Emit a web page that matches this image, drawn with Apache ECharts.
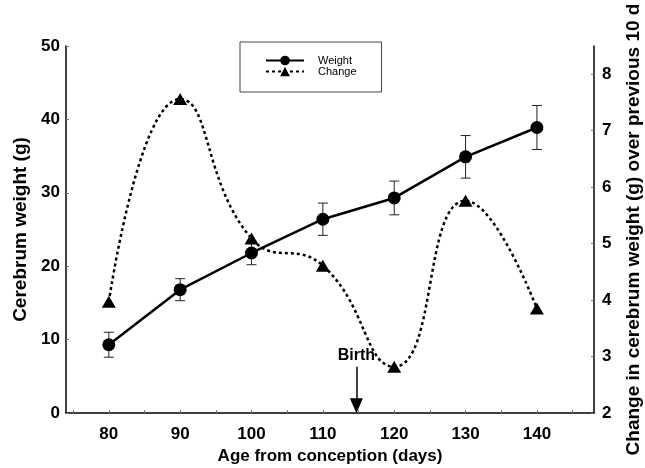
<!DOCTYPE html>
<html>
<head>
<meta charset="utf-8">
<script src="https://cdn.jsdelivr.net/npm/echarts@6/dist/echarts.min.js"></script>
<style>
  html, body { margin: 0; padding: 0; background: #fff; }
  #chart { width: 645px; height: 468px; }
</style>
</head>
<body>
<div id="chart"></div>
<script>
// age from conception (days)
var ages = [80, 90, 100, 110, 120, 130, 140];
// cerebrum weight (g) and its error bar half-width
var weight = [9.3, 16.8, 21.8, 26.4, 29.3, 34.9, 38.9];
var weightErr = [1.7, 1.5, 1.6, 2.2, 2.3, 2.9, 3.0];
// change in cerebrum weight over previous 10 d (g)
var change = [3.97, 7.56, 5.09, 4.61, 2.82, 5.76, 3.85];
// axis ticks / labels
var xLabels = [80, 90, 100, 110, 120, 130, 140];
var xTicks = [75, 80, 85, 90, 95, 100, 105, 110, 115, 120, 125, 130, 135, 140, 145];
var rightLabels = [2, 3, 4, 5, 6, 7, 8];
// birth marker (day, arrow top, arrow tip on left axis scale)
var birthDay = 114.7;
var birthArrow = [6.3, 1.0];

var font = "'Liberation Sans', Arial, sans-serif";
var chart = echarts.init(document.getElementById('chart'));

var labelStyle = { color: '#000', fontWeight: 'bold', fontSize: 17, fontFamily: font };
var nameStyle = { color: '#000', fontWeight: 'bold', fontSize: 17, fontFamily: font };
var vNameStyle = { color: '#000', fontWeight: 'bold', fontSize: 19, fontFamily: font };
var tickStyle = { show: true, inside: true, length: 3, lineStyle: { color: '#777', width: 1 } };

chart.setOption({
  animation: false,
  backgroundColor: '#fff',
  grid: { left: 66, right: 51, top: 46, bottom: 55, outerBoundsMode: 'none', containLabel: false },
  legend: {
    data: ['Weight', 'Change'],
    orient: 'vertical',
    left: 240,
    top: 42,
    padding: [13, 25, 15, 25],
    borderColor: '#444',
    borderWidth: 1,
    itemWidth: 38,
    itemHeight: 12,
    itemGap: 0,
    selectedMode: false,
    textStyle: { color: '#000', fontSize: 11, fontFamily: font, padding: [0, 0, 0, 9] }
  },
  xAxis: {
    type: 'value',
    min: 74,
    max: 148,
    name: 'Age from conception (days)',
    nameLocation: 'middle',
    nameGap: 33,
    nameTextStyle: nameStyle,
    axisLine: { lineStyle: { color: '#000', width: 1.5 } },
    axisTick: Object.assign({ customValues: xTicks }, tickStyle),
    axisLabel: Object.assign({ customValues: xLabels, margin: 13 }, labelStyle),
    splitLine: { show: false }
  },
  yAxis: [
    {
      type: 'value',
      min: 0,
      max: 50,
      interval: 10,
      name: 'Cerebrum weight (g)',
      nameLocation: 'middle',
      nameRotate: 90,
      nameGap: 36,
      nameTextStyle: vNameStyle,
      axisLine: { show: true, lineStyle: { color: '#000', width: 1.5 } },
      axisTick: tickStyle,
      axisLabel: Object.assign({ margin: 6 }, labelStyle),
      splitLine: { show: false }
    },
    {
      type: 'value',
      position: 'right',
      min: 2,
      max: 8.5,
      name: 'Change in cerebrum weight (g) over previous 10 d',
      nameLocation: 'middle',
      nameRotate: 90,
      nameGap: 30,
      nameTextStyle: vNameStyle,
      axisLine: { show: true, lineStyle: { color: '#000', width: 1.5 } },
      axisTick: Object.assign({ customValues: rightLabels }, tickStyle),
      axisLabel: Object.assign({ customValues: rightLabels, margin: 8 }, labelStyle),
      splitLine: { show: false }
    }
  ],
  series: [
    {
      name: 'Weight',
      type: 'line',
      yAxisIndex: 0,
      z: 4,
      data: ages.map(function (a, i) { return [a, weight[i]]; }),
      symbol: 'circle',
      symbolSize: 13,
      itemStyle: { color: '#000' },
      lineStyle: { color: '#000', width: 2.5 },
      markLine: {
        silent: true,
        symbol: ['none', 'triangle'],
        symbolSize: [13, 15],
        lineStyle: { color: '#000', width: 1.5, type: 'solid' },
        label: {
          show: true,
          position: 'start',
          distance: 3,
          formatter: 'Birth',
          color: '#000',
          fontWeight: 'bold',
          fontSize: 16,
          fontFamily: font
        },
        data: [[{ coord: [birthDay, birthArrow[0]] }, { coord: [birthDay, birthArrow[1]] }]]
      }
    },
    {
      name: 'Change',
      type: 'line',
      yAxisIndex: 1,
      z: 3,
      smooth: 0.5,
      data: ages.map(function (a, i) { return [a, change[i]]; }),
      symbol: 'triangle',
      symbolSize: [14, 12],
      itemStyle: { color: '#000' },
      lineStyle: { color: '#000', width: 2.5, type: [3, 3] }
    },
    {
      name: 'err',
      type: 'custom',
      yAxisIndex: 0,
      z: 2,
      data: ages.map(function (a, i) { return [a, weight[i] - weightErr[i], weight[i] + weightErr[i]]; }),
      renderItem: function (params, api) {
        var top = api.coord([api.value(0), api.value(2)]);
        var bot = api.coord([api.value(0), api.value(1)]);
        var w = 5;
        var st = { stroke: '#222', lineWidth: 1 };
        return {
          type: 'group',
          children: [
            { type: 'line', shape: { x1: top[0], y1: top[1], x2: bot[0], y2: bot[1] }, style: st },
            { type: 'line', shape: { x1: top[0] - w, y1: top[1], x2: top[0] + w, y2: top[1] }, style: st },
            { type: 'line', shape: { x1: bot[0] - w, y1: bot[1], x2: bot[0] + w, y2: bot[1] }, style: st }
          ]
        };
      }
    }
  ]
});
</script>
</body>
</html>
